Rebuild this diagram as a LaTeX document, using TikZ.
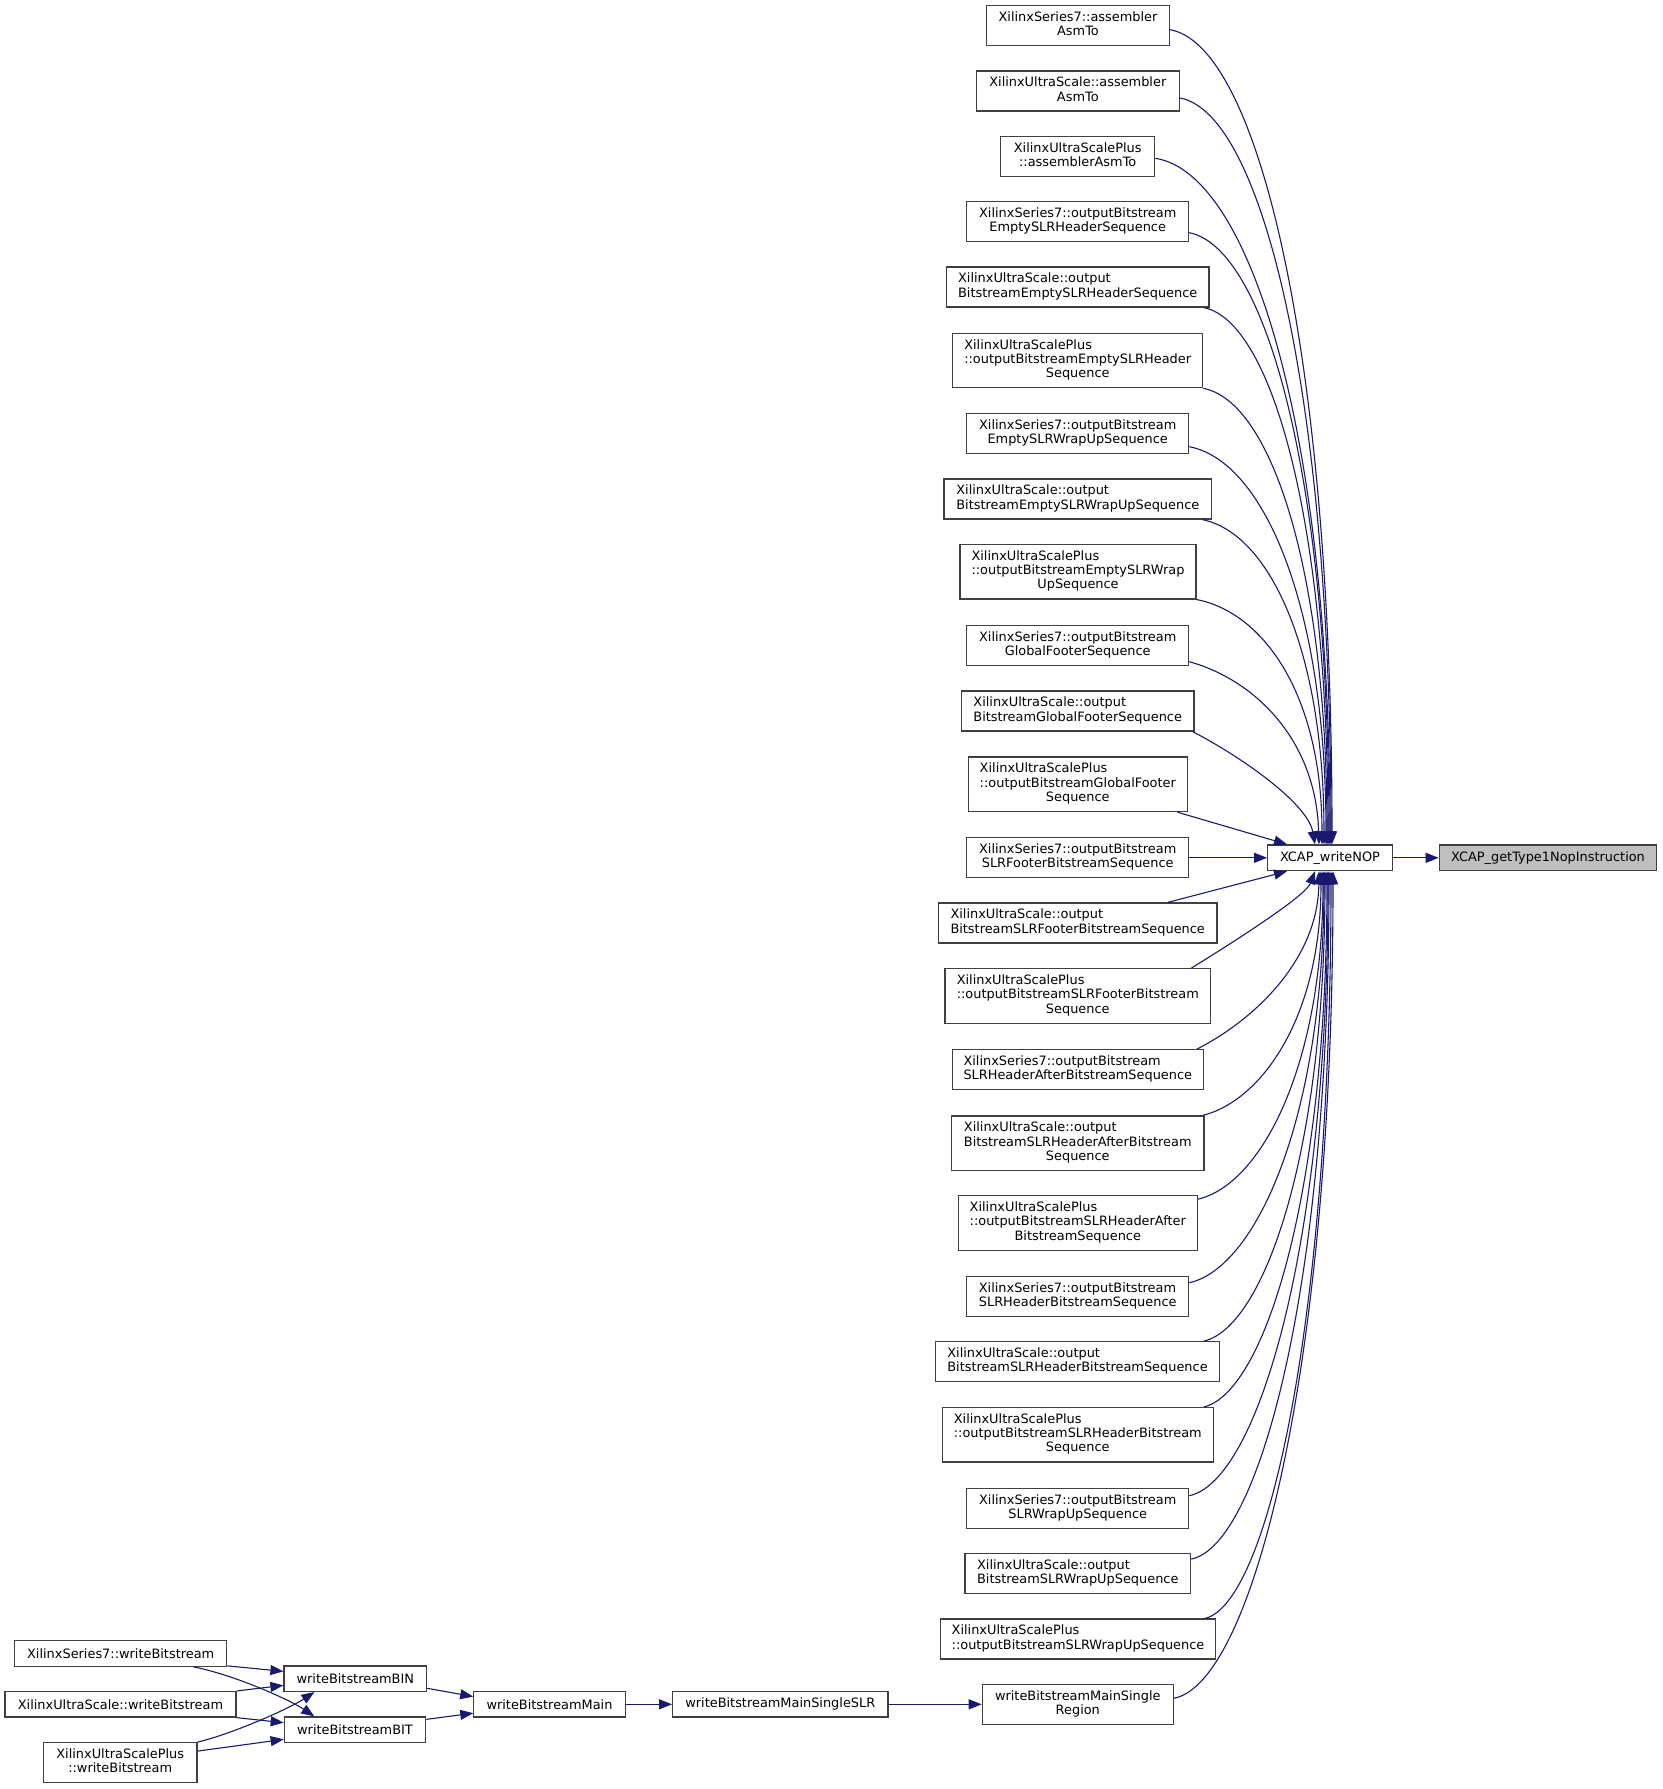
\documentclass[tikz,border=0pt]{standalone}
\usepackage{fontspec}
\setmainfont{DejaVu Sans}
\usetikzlibrary{arrows.meta}
\definecolor{navy}{HTML}{191970}
\definecolor{boxline}{HTML}{404040}
\definecolor{hl}{HTML}{BFBFBF}
\newcommand{\dtwo}[2]{\begin{tabular}{@{}l@{}}#1\\\multicolumn{1}{@{}c@{}}{#2}\end{tabular}}
\newcommand{\dthree}[3]{\begin{tabular}{@{}l@{}}#1\\#2\\\multicolumn{1}{@{}c@{}}{#3}\end{tabular}}
\begin{document}
\begin{tikzpicture}[x=1pt,y=-1pt,
  box/.style={draw=boxline, line width=1.2pt, fill=white, inner sep=0pt, align=center,
    font=\fontsize{12.9pt}{14.3pt}\selectfont},
  conn/.style={draw=navy, line width=1.1pt, -{Triangle[length=13pt,width=10pt]}}]
\fill[white] (0,0) rectangle (1663,1789);
\useasboundingbox (0,0) rectangle (1663,1789);
% callee column
\node[box, minimum width=182.6pt, minimum height=40pt] (b1) at (1078,25.7) {\dtwo{XilinxSeries7::assembler}{AsmTo}};
\node[box, minimum width=203pt, minimum height=40pt] (b2) at (1077.8,91) {\dtwo{XilinxUltraScale::assembler}{AsmTo}};
\node[box, minimum width=154pt, minimum height=40pt] (b3) at (1077.7,156.3) {\dtwo{XilinxUltraScalePlus}{::assemblerAsmTo}};
\node[box, minimum width=222pt, minimum height=40pt] (b4) at (1077.7,221.7) {\dtwo{XilinxSeries7::outputBitstream}{EmptySLRHeaderSequence}};
\node[box, minimum width=262.7pt, minimum height=40pt] (b5) at (1077.7,287) {\dtwo{XilinxUltraScale::output}{BitstreamEmptySLRHeaderSequence}};
\node[box, minimum width=250pt, minimum height=54.5pt] (b6) at (1077.7,360.5) {\dthree{XilinxUltraScalePlus}{::outputBitstreamEmptySLRHeader}{Sequence}};
\node[box, minimum width=222pt, minimum height=40pt] (b7) at (1077.7,433.3) {\dtwo{XilinxSeries7::outputBitstream}{EmptySLRWrapUpSequence}};
\node[box, minimum width=267.7pt, minimum height=40pt] (b8) at (1077.8,499) {\dtwo{XilinxUltraScale::output}{BitstreamEmptySLRWrapUpSequence}};
\node[box, minimum width=236pt, minimum height=54.5pt] (b9) at (1078,571.7) {\dthree{XilinxUltraScalePlus}{::outputBitstreamEmptySLRWrap}{UpSequence}};
\node[box, minimum width=222pt, minimum height=40pt] (b10) at (1077.7,645.7) {\dtwo{XilinxSeries7::outputBitstream}{GlobalFooterSequence}};
\node[box, minimum width=232.7pt, minimum height=40pt] (b11) at (1077.7,711) {\dtwo{XilinxUltraScale::output}{BitstreamGlobalFooterSequence}};
\node[box, minimum width=219pt, minimum height=54.5pt] (b12) at (1077.8,784.3) {\dthree{XilinxUltraScalePlus}{::outputBitstreamGlobalFooter}{Sequence}};
\node[box, minimum width=222pt, minimum height=40pt] (b13) at (1077.7,857.8) {\dtwo{XilinxSeries7::outputBitstream}{SLRFooterBitstreamSequence}};
\node[box, minimum width=278.7pt, minimum height=40pt] (b14) at (1077.7,923) {\dtwo{XilinxUltraScale::output}{BitstreamSLRFooterBitstreamSequence}};
\node[box, minimum width=265.7pt, minimum height=54.5pt] (b15) at (1077.8,996) {\dthree{XilinxUltraScalePlus}{::outputBitstreamSLRFooterBitstream}{Sequence}};
\node[box, minimum width=251pt, minimum height=40pt] (b16) at (1077.8,1069.7) {\dtwo{XilinxSeries7::outputBitstream}{SLRHeaderAfterBitstreamSequence}};
\node[box, minimum width=252.3pt, minimum height=54.5pt] (b17) at (1077.8,1143.3) {\dthree{XilinxUltraScale::output}{BitstreamSLRHeaderAfterBitstream}{Sequence}};
\node[box, minimum width=239pt, minimum height=54.5pt] (b18) at (1077.8,1223) {\dthree{XilinxUltraScalePlus}{::outputBitstreamSLRHeaderAfter}{BitstreamSequence}};
\node[box, minimum width=222pt, minimum height=40pt] (b19) at (1077.7,1296.3) {\dtwo{XilinxSeries7::outputBitstream}{SLRHeaderBitstreamSequence}};
\node[box, minimum width=283.6pt, minimum height=40pt] (b20) at (1077.5,1361.7) {\dtwo{XilinxUltraScale::output}{BitstreamSLRHeaderBitstreamSequence}};
\node[box, minimum width=271pt, minimum height=54.5pt] (b21) at (1077.8,1434.8) {\dthree{XilinxUltraScalePlus}{::outputBitstreamSLRHeaderBitstream}{Sequence}};
\node[box, minimum width=222pt, minimum height=40pt] (b22) at (1077.7,1508.3) {\dtwo{XilinxSeries7::outputBitstream}{SLRWrapUpSequence}};
\node[box, minimum width=225.7pt, minimum height=40pt] (b23) at (1077.8,1573.7) {\dtwo{XilinxUltraScale::output}{BitstreamSLRWrapUpSequence}};
\node[box, minimum width=274.6pt, minimum height=40pt] (b24) at (1078,1639) {\dtwo{XilinxUltraScalePlus}{::outputBitstreamSLRWrapUpSequence}};
\node[box, minimum width=191pt, minimum height=40pt] (b25) at (1077.8,1704.3) {\dtwo{writeBitstreamMainSingle}{Region}};
% central nodes
\node[box, minimum width=124.6pt, minimum height=25.7pt] (nop) at (1330,857.8) {XCAP\_writeNOP};
\node[box, fill=hl, minimum width=217.4pt, minimum height=25.7pt] (get) at (1548,857.8) {XCAP\_getType1NopInstruction};
% bottom chain
\node[box, minimum width=212.3pt, minimum height=25.5pt] (s7wb) at (120.7,1653.5) {XilinxSeries7::writeBitstream};
\node[box, minimum width=231pt, minimum height=25.5pt] (uswb) at (120.5,1704.3) {XilinxUltraScale::writeBitstream};
\node[box, minimum width=153.4pt, minimum height=40pt] (uspwb) at (120.2,1762.7) {\dtwo{XilinxUltraScalePlus}{::writeBitstream}};
\node[box, minimum width=142.6pt, minimum height=25.5pt] (bin) at (355.3,1678.7) {writeBitstreamBIN};
\node[box, minimum width=141.5pt, minimum height=25.5pt] (bit) at (355,1729.7) {writeBitstreamBIT};
\node[box, minimum width=151.3pt, minimum height=25.5pt] (main) at (549.5,1704.3) {writeBitstreamMain};
\node[box, minimum width=215.3pt, minimum height=25.5pt] (slr) at (780.3,1704.3) {writeBitstreamMainSingleSLR};
% edges into XCAP_writeNOP from above
\draw[conn] ([yshift=-4pt]b1.east) .. controls (1259,45) and (1332,356) .. ([xshift=2pt]nop.north);
\draw[conn] ([yshift=-7pt]b2.east) .. controls (1263,113) and (1331,397) .. ([xshift=1pt]nop.north);
\draw[conn] ([yshift=-2pt]b3.east) .. controls (1251,173) and (1330,433) .. (nop.north);
\draw[conn] ([yshift=-11pt]b4.east) .. controls (1266,248) and (1329,478) .. ([xshift=-1pt]nop.north);
\draw[conn] ([xshift=-6pt]b5.south east) .. controls (1272,321) and (1328,522) .. ([xshift=-2pt]nop.north);
\draw[conn] (b6.south east) .. controls (1271,401) and (1327,570) .. ([xshift=-3pt]nop.north);
\draw[conn] ([yshift=-13.4pt]b7.east) .. controls (1264,461) and (1326,606) .. ([xshift=-4pt]nop.north);
\draw[conn] ([xshift=-10pt]b8.south east) .. controls (1269,533) and (1324,649) .. ([xshift=-6pt]nop.north);
\draw[conn] (b9.south east) .. controls (1265,613) and (1322,697) .. ([xshift=-8pt]nop.north);
\draw[conn] ([yshift=-16pt]b10.east) .. controls (1255,680) and (1316,740) .. ([xshift=-11pt]nop.north);
\draw[conn] ([xshift=-2pt]b11.south east) .. controls (1247,760) and (1308,805) .. ([xshift=-15pt]nop.north);
\draw[conn] ([xshift=-10.6pt]b12.south east) -- ([xshift=-43pt]nop.north);
\draw[conn] (b13.east) -- (nop.west);
% edges into XCAP_writeNOP from below
\draw[conn] ([xshift=-50pt]b14.north east) -- ([xshift=-43pt]nop.south);
\draw[conn] ([xshift=-20pt]b15.north east) .. controls (1245,935) and (1306,895) .. ([xshift=-15pt]nop.south);
\draw[conn] ([xshift=-7pt]b16.north east) .. controls (1254,1020) and (1318,960) .. ([xshift=-11pt]nop.south);
\draw[conn] ([xshift=-2pt]b17.north east) .. controls (1261,1101) and (1321,1018) .. ([xshift=-9pt]nop.south);
\draw[conn] ([yshift=-4pt]b18.north east) .. controls (1260,1185) and (1323,1068) .. ([xshift=-7pt]nop.south);
\draw[conn] ([yshift=-7pt]b19.north east) .. controls (1256,1268) and (1324,1118) .. ([xshift=-6pt]nop.south);
\draw[conn] ([xshift=-16pt]b20.north east) .. controls (1264,1327) and (1325,1153) .. ([xshift=-5pt]nop.south);
\draw[conn] ([xshift=-10pt]b21.north east) .. controls (1265,1392) and (1327,1193) .. ([xshift=-3pt]nop.south);
\draw[conn] ([yshift=-8pt]b22.north east) .. controls (1258,1481) and (1328,1246) .. ([xshift=-2pt]nop.south);
\draw[conn] ([yshift=-6pt]b23.north east) .. controls (1260,1545) and (1329,1284) .. ([xshift=-1pt]nop.south);
\draw[conn] ([xshift=-11pt]b24.north east) .. controls (1268,1604) and (1331,1320) .. ([xshift=1pt]nop.south);
\draw[conn] ([yshift=6pt]b25.east) .. controls (1253,1683) and (1333,1367) .. ([xshift=3pt]nop.south);
% XCAP_writeNOP -> getType1
\draw[conn] (nop.east) -- (get.west);
% bottom chain edges
\draw[conn] ([yshift=1pt]s7wb.south east) -- ([yshift=-6pt]bin.north west);
\draw[conn] ([xshift=-34pt]s7wb.south east) .. controls (235,1675) and (290,1700) .. ([xshift=30.6pt]bit.north west);
\draw[conn] (uswb.north east) -- ([yshift=-20pt]bin.north west);
\draw[conn] (uswb.south east) -- ([yshift=-6.3pt]bit.north west);
\draw[conn] (uspwb.north east) .. controls (235,1733) and (290,1708) .. ([xshift=31pt]bin.south west);
\draw[conn] ([yshift=-9pt]uspwb.north east) -- ([yshift=-23pt]bit.north west);
\draw[conn] ([yshift=-9.6pt]bin.east) -- ([yshift=-5.6pt]main.north west);
\draw[conn] ([yshift=-3pt]bit.north east) -- ([yshift=4.5pt]main.south west);
\draw[conn] (main.east) -- (slr.west);
\draw[conn] (slr.east) -- (b25.west);
\end{tikzpicture}
\end{document}
